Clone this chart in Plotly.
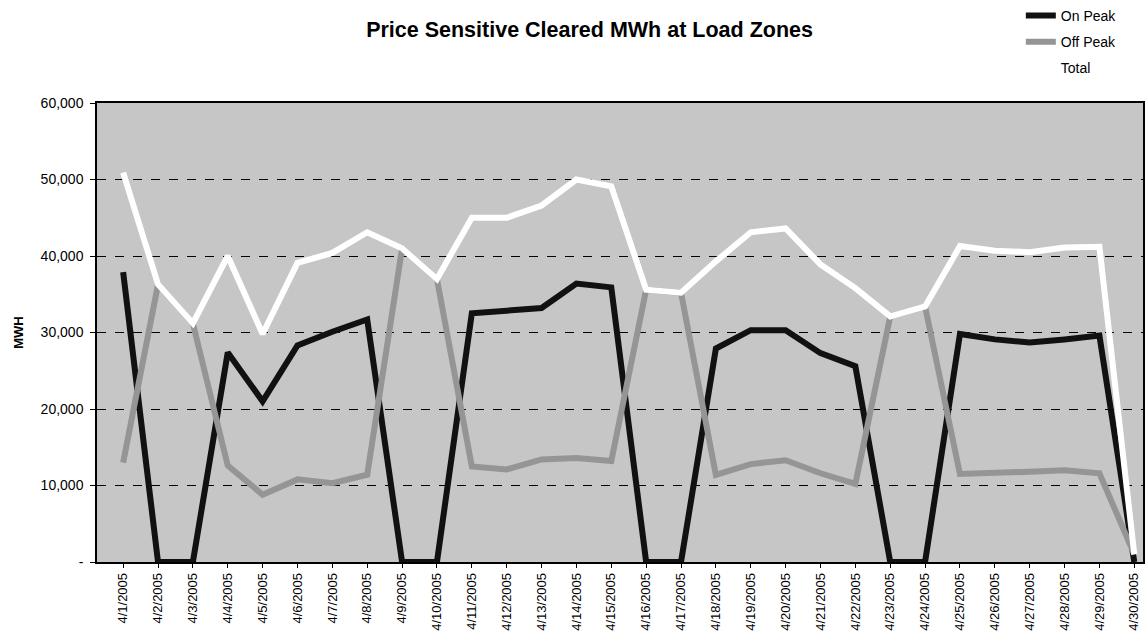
import plotly.graph_objects as go

dates = [f"4/{d}/2005" for d in range(1, 31)]

on_peak = [37900, 0, 0, 27400, 21000, 28300, 30100, 31700, 0, 0,
           32500, 32900, 33200, 36400, 35900, 0, 0, 27900, 30300, 30300,
           27300, 25600, 0, 0, 29800, 29100, 28700, 29100, 29600, 0]
off_peak = [13000, 36300, 31200, 12600, 8800, 10800, 10300, 11400, 41000, 37000,
            12500, 12100, 13400, 13600, 13200, 35600, 35200, 11400, 12800, 13300,
            11600, 10200, 32100, 33400, 11500, 11600, 11800, 12000, 11600, 1000]
total = [50900, 36300, 31200, 40000, 29800, 39100, 40400, 43100, 41000, 37000,
         45000, 45000, 46600, 50000, 49100, 35600, 35200, 39300, 43100, 43600,
         38900, 35800, 32100, 33400, 41300, 40700, 40500, 41100, 41200, 1000]

y_ticks = [0, 10000, 20000, 30000, 40000, 50000, 60000]
y_tick_text = ["-", "10,000", "20,000", "30,000", "40,000", "50,000", "60,000"]

fig = go.Figure()
fig.add_trace(go.Scatter(x=dates, y=on_peak, name="On Peak", mode="lines", legendgroup="a",
                         line=dict(color="#111111", width=6)))
fig.add_trace(go.Scatter(x=dates, y=off_peak, name="Off Peak", mode="lines", legendgroup="b",
                         line=dict(color="#959595", width=6)))
fig.add_trace(go.Scatter(x=dates, y=total, name="Total", mode="lines", legendgroup="c",
                         line=dict(color="#ffffff", width=6)))

fig.update_layout(
    width=1147, height=633,
    margin=dict(l=97, r=4, t=103, b=71, autoexpand=False),
    paper_bgcolor="white",
    plot_bgcolor="#c6c6c6",
    font=dict(family="Liberation Sans, Arial, sans-serif", size=14, color="black"),
    title=dict(text="<b>Price Sensitive Cleared MWh at Load Zones</b>",
               x=0.514, xanchor="center", y=0.953, yanchor="middle",
               font=dict(size=21.5, color="black")),
    showlegend=True,
    legend=dict(xref="container", yref="container", x=0.890, xanchor="left",
                y=1.0, yanchor="top", bgcolor="rgba(0,0,0,0)",
                font=dict(size=14), tracegroupgap=5, itemwidth=30),
    xaxis=dict(
        type="category", range=[-0.75, 29.25],
        tickangle=-90, tickfont=dict(size=13),
        showgrid=False, showline=True, linecolor="black", linewidth=1.5,
        mirror=True, ticks="outside", ticklen=4, tickcolor="black",
        zeroline=False,
    ),
    yaxis=dict(
        range=[0, 60000], tickvals=y_ticks, ticktext=y_tick_text,
        tickfont=dict(size=14), ticklabelstandoff=4,
        title=dict(text="<b>MWH</b>", font=dict(size=13), standoff=14),
        showgrid=True, gridcolor="black", gridwidth=1, griddash="dash",
        showline=True, linecolor="black", linewidth=1.5, mirror=True,
        ticks="outside", ticklen=5, tickcolor="black", zeroline=False,
    ),
)

fig.write_html("out.html",
               config={"displayModeBar": False},
               post_script="document.body.style.margin='0';document.body.style.overflow='hidden';")
